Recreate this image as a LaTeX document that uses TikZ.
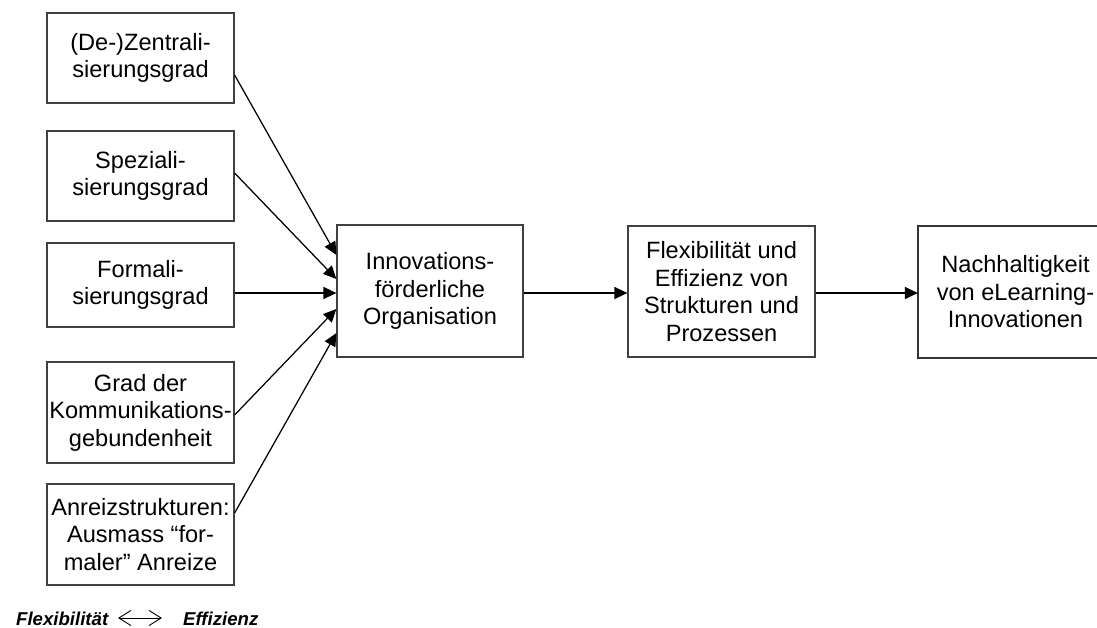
\documentclass[tikz,border=0pt]{standalone}
\usepackage{fontspec}
\setmainfont{Liberation Sans}
\usetikzlibrary{arrows.meta}
\begin{document}
\begin{tikzpicture}[x=1pt,y=-1pt,
  box/.style={draw=black!75,line width=1.2pt,align=center,inner sep=0pt,
    font=\fontsize{23.6}{27.5}\selectfont},
  leftbox/.style={box,minimum width=187pt},
  arr/.style={line width=1.25pt,-{Triangle[length=13pt,width=12pt]}},
  note/.style={font=\fontsize{18.6}{22}\selectfont\bfseries\itshape,inner sep=0pt,anchor=base west}]
\useasboundingbox (0,0) rectangle (1097,628);

% influencing factors
\node[leftbox,minimum height=90pt]  (zen) at (140.5,58)    {(De-)Zentrali-\\sierungsgrad};
\node[leftbox,minimum height=90pt]  (spe) at (140.5,176)   {Speziali-\\sierungsgrad};
\node[leftbox,minimum height=84pt]  (for) at (140.5,285)   {Formali-\\sierungsgrad};
\node[leftbox,minimum height=101pt] (kom) at (140.5,412.5) {Grad der\\Kommunikations-\\gebundenheit};
\node[leftbox,minimum height=101pt] (anr) at (140.5,534.5) {Anreizstrukturen:\\Ausmass “for-\\maler” Anreize};

% main chain
\node[box,minimum width=186pt,minimum height=132pt] (org) at (430,291)
  {Innovations-\\förderliche\\Organisation};
\node[box,minimum width=187pt,minimum height=131pt] (fle) at (721.5,291.5)
  {Flexibilität und\\Effizienz von\\Strukturen und\\Prozessen};
% the last box runs on past the right border of the page: only three sides show
\node[box,draw=none,minimum width=194pt,minimum height=131pt] (nac) at (1015.5,292)
  {Nachhaltigkeit\\von eLearning-\\Innovationen};
\draw[draw=black!80,line width=1.3pt] ([xshift=-14pt]nac.north east) -- (nac.north west)
  -- (nac.south west) -- ([xshift=-14pt]nac.south east);

% factor arrows
\draw[arr] ([yshift=-17pt]zen.east) -- ([yshift=36pt]org.west);
\draw[arr] ([yshift=3pt]spe.east)   -- ([yshift=12pt]org.west);
\draw[arr] ([yshift=-8pt]for.east)  -- ([yshift=-2pt]org.west);
\draw[arr] ([yshift=-2.5pt]kom.east) -- ([yshift=-18pt]org.west);
\draw[arr] ([yshift=21.5pt]anr.east) -- ([yshift=-42pt]org.west);

% chain arrows
\draw[arr] ([yshift=-2pt]org.east) -- ([yshift=-1.5pt]fle.west);
\draw[arr] ([yshift=-1.5pt]fle.east) -- ([yshift=-1pt]nac.west);

% trade-off note
\node[note] (fx) at (16,625) {Flexibilität};
\node[note] (ef) at (183,625) {Effizienz};
\coordinate (la) at (118,618);
\coordinate (ra) at (162,618);
\draw[line width=0.9pt,{Straight Barb[length=12pt,width=15pt,line width=0.9pt]}-{Straight Barb[length=12pt,width=15pt,line width=0.9pt]}] (la) -- (ra);
\end{tikzpicture}
\end{document}
